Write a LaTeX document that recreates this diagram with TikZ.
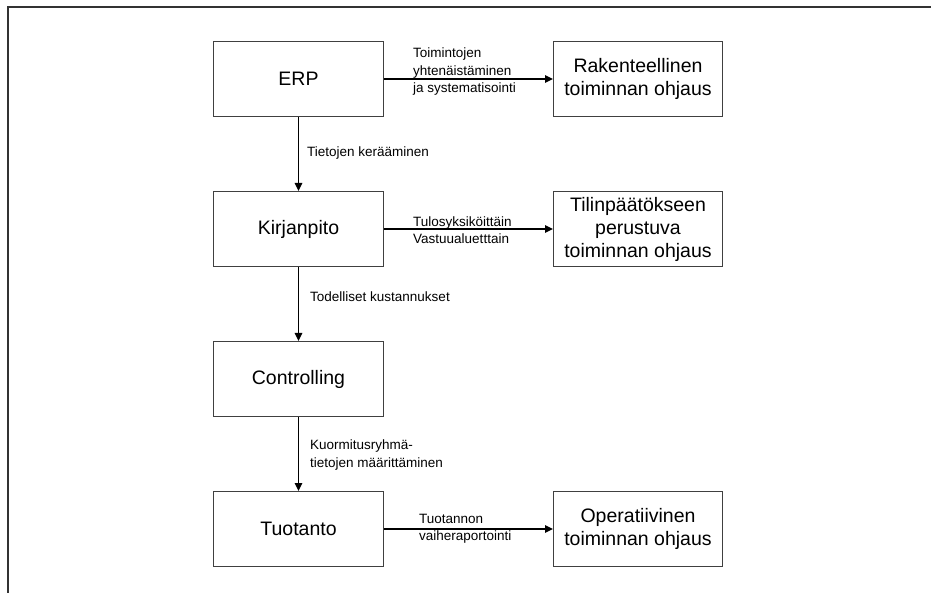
\documentclass[tikz,border=0pt]{standalone}
\usepackage{fontspec}
\setmainfont{Liberation Sans}
\usetikzlibrary{arrows.meta}
\begin{document}
\begin{tikzpicture}[x=1pt,y=-1pt,
  box/.style={draw=black!75, line width=1pt, minimum width=170pt, minimum height=75pt,
    inner sep=0pt, align=center, anchor=north west,
    font=\fontsize{19.5}{23}\selectfont},
  lbl/.style={inner sep=0pt, align=left, anchor=west,
    font=\fontsize{13.5}{17.5}\selectfont},
  flow/.style={-{Triangle[length=8pt,width=7.5pt]}, line width=1.5pt, black},
  frame/.style={line width=1.2pt, black!80}]
\useasboundingbox (0,0) rectangle (931,593);

% page frame (top and left edges)
\coordinate (fa) at (8,593);
\coordinate (fb) at (8,7);
\coordinate (fc) at (931,7);
\draw[frame] (fa) -- (fb) -- (fc);

% main column
\node[box] (erp) at (213,41)  {ERP};
\node[box] (kir) at (213,191) {Kirjanpito};
\node[box] (con) at (213,341) {Controlling};
\node[box] (tuo) at (213,491) {Tuotanto};

% steering outcomes
\node[box, minimum width=169pt] (rak) at (553,41)  {Rakenteellinen\\toiminnan ohjaus};
\node[box, minimum width=169pt] (til) at (553,191) {Tilinpäätökseen\\perustuva\\toiminnan ohjaus};
\node[box, minimum width=169pt] (ope) at (553,491) {Operatiivinen\\toiminnan ohjaus};

% connectors
\draw[flow] (erp) -- (rak);
\draw[flow] (kir) -- (til);
\draw[flow] (tuo) -- (ope);
\draw[flow] (erp) -- (kir);
\draw[flow] (kir) -- (con);
\draw[flow] (con) -- (tuo);

% connector labels
\node[lbl] (l1) at (413,72)  {Toimintojen\\yhtenäistäminen\\ja systematisointi};
\node[lbl] (l2) at (413,230) {Tulosyksiköittäin\\Vastuualuetttain};
\node[lbl] (l3) at (307,153) {Tietojen kerääminen};
\node[lbl] (l4) at (310,297) {Todelliset kustannukset};
\node[lbl] (l5) at (310,455) {Kuormitusryhmä-\\tietojen määrittäminen};
\node[lbl] (l6) at (419,529) {Tuotannon\\vaiheraportointi};
\end{tikzpicture}
\end{document}
